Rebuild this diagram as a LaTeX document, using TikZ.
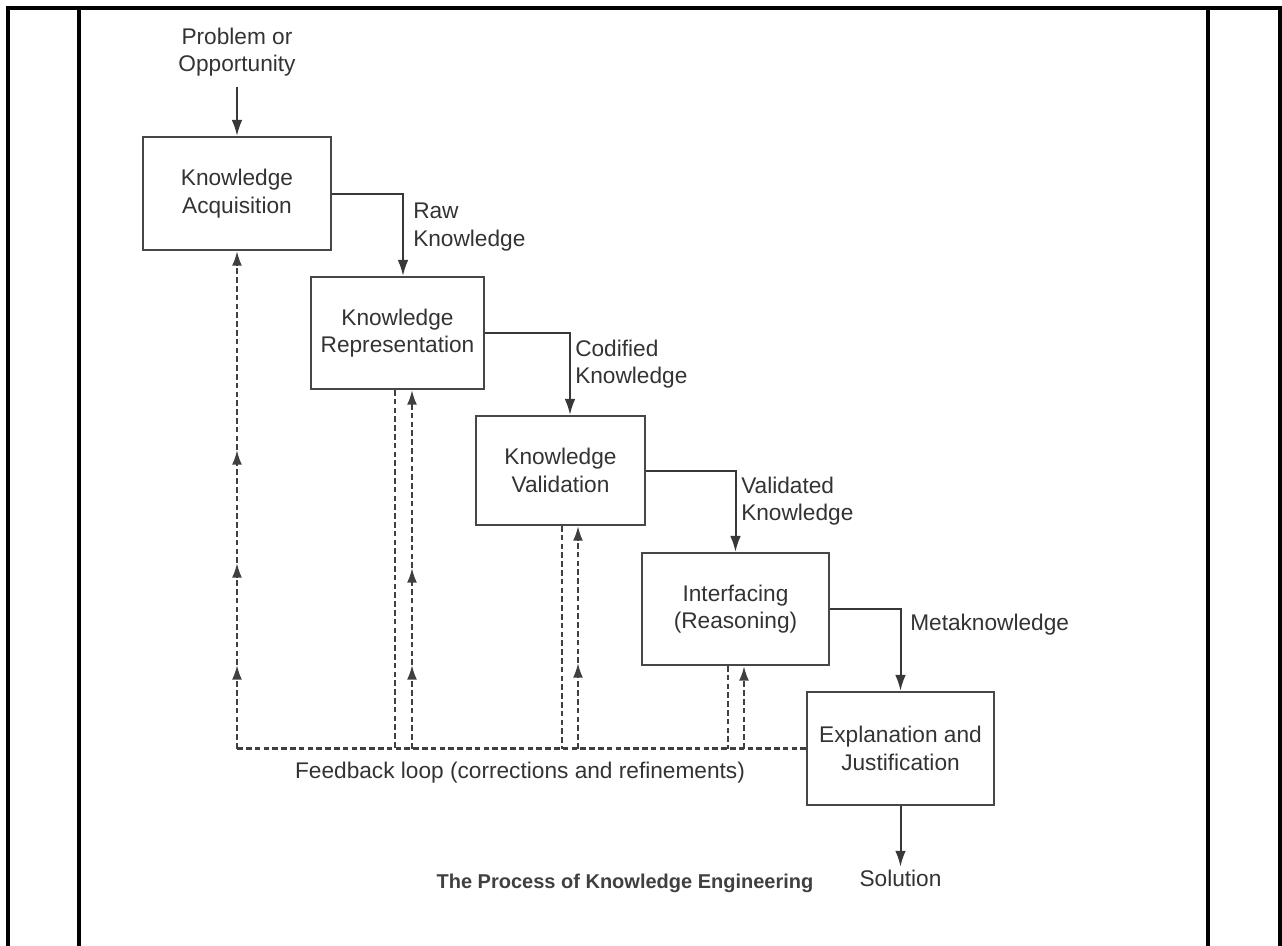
\documentclass[tikz,border=0pt]{standalone}
\usepackage{fontspec}
\setmainfont{Liberation Sans}
\usetikzlibrary{arrows.meta,calc}
\begin{document}
\begin{tikzpicture}[x=0.75pt,y=-0.75pt,
  every node/.style={font=\fontsize{17}{20.5}\selectfont, text=black!80},
  stage/.style={draw=black!72, line width=1.6pt, align=center, inner sep=0pt},
  flow/.style={draw=black!78, line width=1.5pt, -{Latex[length=12pt,width=8pt]}},
  fb/.style={draw=black!75, line width=1.55pt, dash pattern=on 4.2pt off 2.4pt},
  fbup/.style={fb, -{Latex[length=11pt,width=7.5pt]}},
  frame/.style={line width=2.3pt, black}]
\useasboundingbox (0,0) rectangle (1282,946);

% page frame
\draw[frame] (8,946) -- (8,8) -- (1280,8) -- (1280,946);
\draw[frame] (79,8) -- (79,946);
\draw[frame] (1208,8) -- (1208,946);

% stages
\node[stage, minimum width=141pt, minimum height=84.75pt] (ka) at (237,193.5) {Knowledge\\Acquisition};
\node[stage, minimum width=129.75pt, minimum height=84pt] (kr) at (397.5,333) {Knowledge\\Representation};
\node[stage, minimum width=126.75pt, minimum height=81.75pt] (kv) at (560.5,470.5) {Knowledge\\Validation};
\node[stage, minimum width=140.25pt, minimum height=84pt] (int) at (735.5,609) {Interfacing\\(Reasoning)};
\node[stage, minimum width=140.25pt, minimum height=84.75pt] (exp) at (900.5,748.5) {Explanation and\\Justification};

% inputs and outputs
\node[align=center, inner sep=0pt] (prob) at (237,52) {Problem or\\Opportunity};
\node[inner sep=2pt] (sol) at (900.5,878) {Solution};

\draw[flow] ([yshift=-8pt]prob.south) -- (ka.north);
\draw[flow] (exp.south) -- (sol.north);

% forward flow between stages
\draw[flow] (ka.east) -| ($(kr.north)+(5.5,0)$);
\draw[flow] (kr.east) -| ($(kv.north)+(9.5,0)$);
\draw[flow] (kv.east) -| (int.north);
\draw[flow] (int.east) -| (exp.north);

% flow labels
\node[anchor=west, align=left, inner sep=0pt] (l1) at (413,227) {Raw\\Knowledge};
\node[anchor=west, align=left, inner sep=0pt] (l2) at (575,364) {Codified\\Knowledge};
\node[anchor=west, align=left, inner sep=0pt] (l3) at (741,501) {Validated\\Knowledge};
\node[anchor=west, inner sep=0pt] (l4) at (910,625) {Metaknowledge};

% feedback loop
\coordinate (fbL) at (ka.south |- exp.west);
\draw[fb] (exp.west) -- (fbL);

% column below acquisition
\draw[fbup] (fbL) -- (237,665);
\draw[fbup] (237,665) -- (237,563);
\draw[fbup] (237,563) -- (237,450);
\draw[fbup] (237,450) -- (ka.south);

% column below representation
\coordinate (krd) at ($(kr.south)+(-2.5,0)$);
\coordinate (kru) at ($(kr.south)+(14.5,0)$);
\draw[fb] (krd) -- (krd |- fbL);
\draw[fbup] (kru |- fbL) -- (412,665);
\draw[fbup] (412,665) -- (412,568);
\draw[fbup] (412,568) -- (kru);

% column below validation
\coordinate (kvd) at ($(kv.south)+(1.5,0)$);
\coordinate (kvu) at ($(kv.south)+(17.5,0)$);
\draw[fb] (kvd) -- (kvd |- fbL);
\draw[fbup] (kvu |- fbL) -- (578,663);
\draw[fbup] (578,663) -- (kvu);

% column below interfacing
\coordinate (intd) at ($(int.south)+(-7.5,0)$);
\coordinate (intu) at ($(int.south)+(8.5,0)$);
\draw[fb] (intd) -- (intd |- fbL);
\draw[fbup] (intu |- fbL) -- (intu);

\node[inner sep=0pt] (fbtext) at (520,773) {Feedback loop (corrections and refinements)};

% caption
\node[inner sep=0pt, text=black!75, font=\bfseries\fontsize{15}{18}\selectfont] (cap) at (625,883) {The Process of Knowledge Engineering};
\end{tikzpicture}
\end{document}
